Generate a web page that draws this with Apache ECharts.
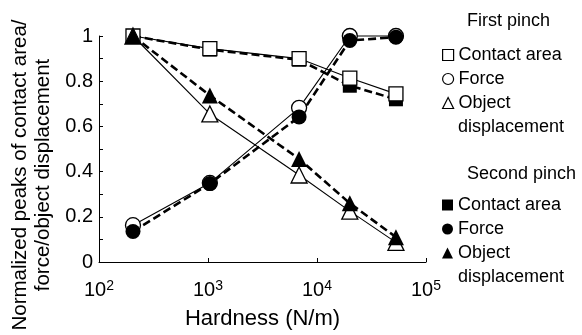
<!DOCTYPE html>
<html>
<head>
<meta charset="utf-8">
<script src="https://cdn.jsdelivr.net/npm/echarts@6/dist/echarts.min.js"></script>
<style>
html,body{margin:0;padding:0;background:#fff;}
#chart{width:582px;height:335px;}
</style>
</head>
<body>
<div id="chart"></div>
<script>
// Data
var hardness = [205, 1040, 6850, 20000, 53000];
var firstContact = [1.0, 0.944, 0.90, 0.814, 0.744];
var secondContact = [1.0, 0.94, 0.895, 0.78, 0.72];
var firstForce = [0.163, 0.35, 0.682, 1.0, 1.0];
var secondForce = [0.135, 0.347, 0.642, 0.98, 0.995];
var firstDisp = [1.0, 0.655, 0.385, 0.225, 0.087];
var secondDisp = [1.0, 0.737, 0.456, 0.26, 0.11];
var yTicks = [0, 0.2, 0.4, 0.6, 0.8, 1];
var xTickExponents = [2, 3, 4, 5];

var FONT = '"Liberation Sans", Arial, Helvetica, sans-serif';

function pairs(vals) { return hardness.map(function (h, i) { return [h, vals[i]]; }); }

function firstSeries(name, vals, symbol, size) {
  return {
    name: name, type: 'line', data: pairs(vals), symbol: symbol, symbolSize: size,
    clip: false, z: 3,
    lineStyle: { color: '#000', width: 1.1, type: 'solid' },
    itemStyle: { color: '#fff', borderColor: '#000', borderWidth: 1.3 },
    emphasis: { disabled: true }
  };
}
function secondSeries(name, vals, symbol, size) {
  return {
    name: name, type: 'line', data: pairs(vals), symbol: symbol, symbolSize: size,
    clip: false, z: 3,
    lineStyle: { color: '#000', width: 2.6, type: [8, 4] },
    itemStyle: { color: '#000', borderColor: '#000', borderWidth: 0 },
    emphasis: { disabled: true }
  };
}

var chart = echarts.init(document.getElementById('chart'), null, { renderer: 'canvas' });

var legendText = { fontSize: 18, fontFamily: FONT, color: '#000', lineHeight: 23 };
function legendFmt(n) { return n.replace(/ \((first|second)\)$/, '').replace('Object displacement', 'Object'); }

chart.setOption({
  animation: false,
  backgroundColor: '#fff',
  textStyle: { fontFamily: FONT, color: '#000' },
  grid: { left: 99, right: 156, top: 36, bottom: 62, containLabel: false },
  title: [
    { text: 'First pinch', left: 467, top: 12, padding: 0,
      textStyle: { fontSize: 18, fontWeight: 'normal', fontFamily: FONT, color: '#000' } },
    { text: 'Second pinch', left: 467, top: 165, padding: 0,
      textStyle: { fontSize: 18, fontWeight: 'normal', fontFamily: FONT, color: '#000' } }
  ],
  legend: [
    { orient: 'vertical', left: 442, top: 43.5, padding: 0, itemGap: 1,
      itemWidth: 11, itemHeight: 11, selectedMode: false,
      formatter: legendFmt, textStyle: legendText,
      itemStyle: { borderWidth: 1.2 },
      data: [
        { name: 'Contact area (first)', icon: 'rect' },
        { name: 'Force (first)', icon: 'circle' },
        { name: 'Object displacement (first)', icon: 'triangle' }
      ] },
    { orient: 'vertical', left: 442, top: 193.5, padding: 0, itemGap: 1,
      itemWidth: 11, itemHeight: 11, selectedMode: false,
      formatter: legendFmt, textStyle: legendText,
      itemStyle: { borderWidth: 0 },
      data: [
        { name: 'Contact area (second)', icon: 'rect' },
        { name: 'Force (second)', icon: 'circle' },
        { name: 'Object displacement (second)', icon: 'triangle' }
      ] }
  ],
  graphic: [
    { type: 'text', x: 31.5, y: 175, rotation: Math.PI / 2,
      style: { text: 'Normalized peaks of contact area/\nforce/object displacement',
        fontSize: 20.5, fontFamily: FONT, fill: '#000', align: 'center', verticalAlign: 'middle', lineHeight: 23 } },
    { type: 'text', x: 458, y: 127,
      style: { text: 'displacement', fontSize: 18, fontFamily: FONT, fill: '#000', align: 'left', verticalAlign: 'middle' } },
    { type: 'text', x: 458, y: 277,
      style: { text: 'displacement', fontSize: 18, fontFamily: FONT, fill: '#000', align: 'left', verticalAlign: 'middle' } }
  ],
  xAxis: {
    type: 'log', logBase: 10, min: 100, max: 100000,
    name: 'Hardness (N/m)', nameLocation: 'middle', nameGap: 46,
    nameTextStyle: { fontSize: 22, fontFamily: FONT, color: '#000' },
    axisLine: { show: true, lineStyle: { color: '#000', width: 1 } },
    axisTick: { show: true, inside: true, length: 4, lineStyle: { color: '#000', width: 1 } },
    minorTick: { show: false },
    splitLine: { show: false },
    axisLabel: {
      margin: 17, color: '#000',
      formatter: function (v) {
        var e = Math.round(Math.log(v) / Math.LN10);
        if (xTickExponents.indexOf(e) < 0) return '';
        return '{b|10}{s|' + e + '}';
      },
      rich: {
        b: { fontSize: 20, fontFamily: FONT, color: '#000', lineHeight: 22 },
        s: { fontSize: 14, fontFamily: FONT, color: '#000', lineHeight: 14, verticalAlign: 'top' }
      }
    }
  },
  yAxis: {
    type: 'value', min: 0, max: 1, interval: 0.1,
    axisLine: { show: true, lineStyle: { color: '#000', width: 1 } },
    axisTick: { show: true, inside: true, length: 4, lineStyle: { color: '#000', width: 1 } },
    splitLine: { show: false },
    axisLabel: {
      margin: 6, fontSize: 20, fontFamily: FONT, color: '#000',
      formatter: function (v) {
        for (var i = 0; i < yTicks.length; i++) {
          if (Math.abs(v - yTicks[i]) < 1e-6) {
            var t = yTicks[i];
            return (t === 0 || t === 1) ? String(t) : t.toFixed(1);
          }
        }
        return '';
      }
    }
  },
  series: [
    secondSeries('Contact area (second)', secondContact, 'rect', 14),
    firstSeries('Contact area (first)', firstContact, 'rect', 14),
    firstSeries('Force (first)', firstForce, 'circle', 15),
    secondSeries('Force (second)', secondForce, 'circle', 15),
    firstSeries('Object displacement (first)', firstDisp, 'triangle', 16),
    secondSeries('Object displacement (second)', secondDisp, 'triangle', 16)
  ]
});
</script>
</body>
</html>
